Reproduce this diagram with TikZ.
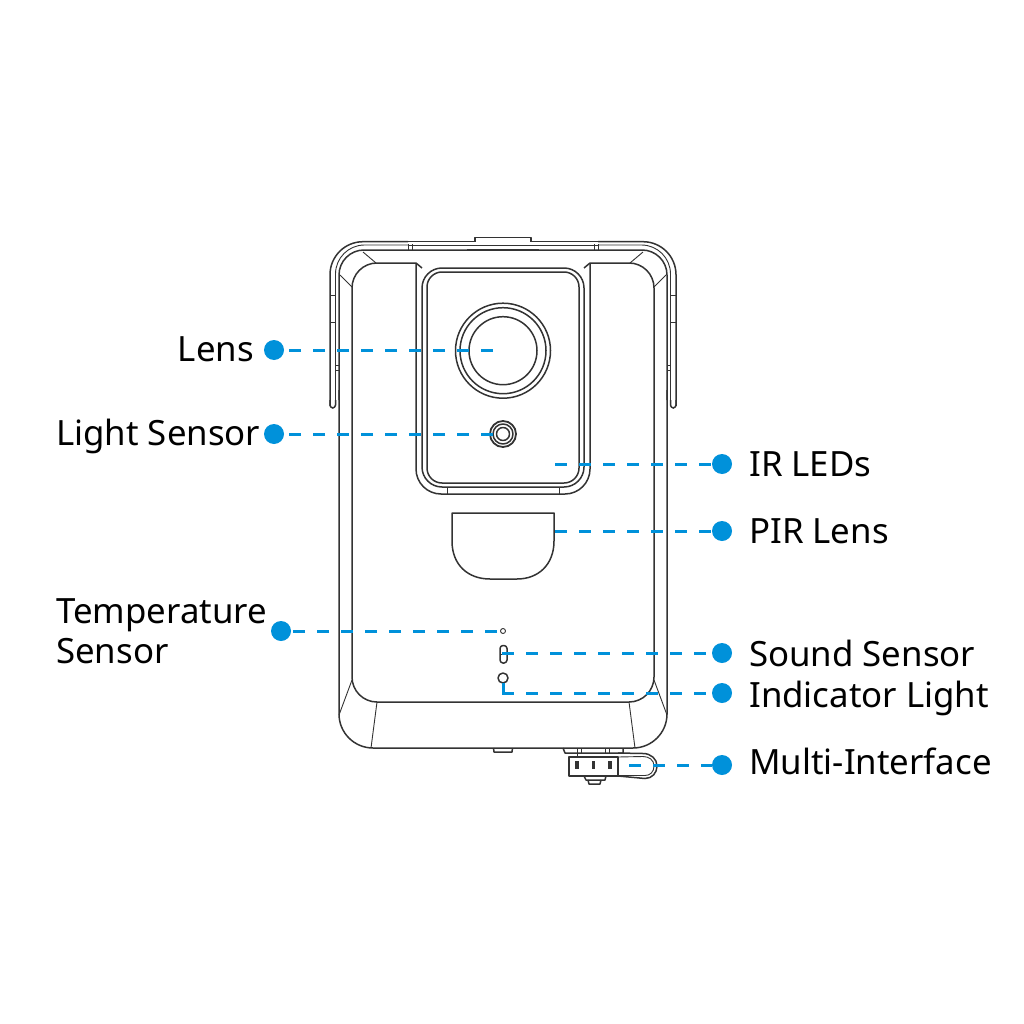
\documentclass[tikz,border=0pt]{standalone}
\usepackage{fontspec}
\setmainfont{Noto Sans}
\usetikzlibrary{calc}

\definecolor{leadblue}{HTML}{0091DA}
\definecolor{inkline}{HTML}{333333}

\tikzset{
  outline/.style={draw=inkline,line width=1.5pt,line join=round},
  thinline/.style={draw=inkline,line width=0.9pt},
  leader/.style={draw=leadblue,line width=3pt,dash pattern=on 12pt off 12pt},
  leaddot/.style={circle,fill=leadblue,inner sep=0pt,minimum size=20pt},
  callout/.style={inner sep=0pt,align=left,font=\fontsize{34.8}{40}\selectfont,text=black},
}

\newcommand{\hoodside}{
  \draw[outline,rounded corners=33pt] (330,406) -- (330,241.7) -- (408,241.7);
  \draw[thinline,rounded corners=29pt] (335.5,406) -- (335.5,245) -- (408,245);
  \draw[outline,rounded corners=3pt] (330,400) -- (330,408) -- (335.5,408) -- (335.5,400);
  \draw[thinline] (330,295) -- (335.5,295);
  \draw[thinline] (330,322) -- (335.5,322);
  \draw[thinline] (335.5,365) -- (339,365);
  \draw[thinline] (335.5,370) -- (339,370);
  \draw[thinline] (363,252) -- (376,263);
  \draw[thinline] (340,275) -- (352,287);
  \draw[thinline] (408,244) -- (408,250);
  \draw[thinline] (412,244) -- (412,250);
  \draw[thinline] (352,680) -- (339,715);
  \draw[thinline] (377,702) -- (371,748);
}

\begin{document}
\begin{tikzpicture}[x=1pt,y=-1pt]
  \useasboundingbox (0,0) rectangle (1024,1024);

  % hood and body
  \draw[outline,rounded corners=25pt] (339,400) -- (339,250) -- (667,250) -- (667,400);
  \draw[outline] (408,241.7) -- (598,241.7);
  \draw[thinline] (408,245) -- (598,245);
  \draw[outline,fill=white] (475,241.7) -- (475,237.5) -- (531,237.5) -- (531,241.7);
  \draw[draw=inkline,line width=2pt] (467,249.5) -- (539,249.5);
  \draw[outline,rounded corners=34pt] (339,390) -- (339,748) -- (667,748) -- (667,390);
  \hoodside
  \begin{scope}[xshift=1006pt,xscale=-1]
    \hoodside
  \end{scope}

  % front face
  \draw[outline,rounded corners=25pt] (416,263) -- (352,263) -- (352,702) -- (654,702) -- (654,263) -- (590,263);
  \draw[outline,rounded corners=25pt] (416,263) -- (416,494) -- (590,494) -- (590,263);
  \draw[outline,rounded corners=20pt] (422,268) -- (422,487) -- (584,487) -- (584,268) -- cycle;
  \draw[outline,rounded corners=15pt] (427,272) rectangle (579,483);
  \draw[outline] (416,263) -- (422,268);
  \draw[outline] (590,263) -- (584,268);
  \draw[thinline] (447,487) -- (447,494);
  \draw[thinline] (559,487) -- (559,494);

  % lens
  \draw[outline] (503,350.7) circle (47.5);
  \draw[outline] (503,350.7) circle (43);
  \draw[outline] (503,350.7) circle (34);

  % light sensor
  \draw[outline,line width=1.8pt] (503,434) circle (13);
  \draw[outline] (503,434) circle (10);
  \draw[outline] (503,434) circle (6.5);

  % pir lens
  \draw[outline] (452,513) -- (554,513) -- (554,541) .. controls (554,565) and (538,579) .. (517,579) -- (490,579) .. controls (468,579) and (452,565) .. (452,541) -- cycle;

  % small openings
  \draw[thinline] (503,631) circle (2.5);
  \draw[outline,rounded corners=3pt] (500,645.5) rectangle (507,663);
  \draw[thinline] (500,654) -- (507,654);
  \draw[outline] (503,678) circle (5);

  % underside
  \draw[outline] (493.5,748) -- (494,752) -- (512,752) -- (512.5,748);
  \draw[outline] (563,748) -- (565,753) -- (623,753) -- (623,748);
  \draw[thinline] (577,748) -- (577,753);
  \draw[thinline] (581,748) -- (581,753);
  \draw[thinline] (605,748) -- (605,753);
  \draw[thinline] (609,748) -- (609,753);
  \draw[thinline] (577,753) -- (577,756);
  \draw[outline] (569,757) -- (569,776) -- (618,776) -- (618,757) -- cycle;
  \draw[outline] (584,776) -- (586,780) -- (605,780) -- (606,776);
  \draw[outline] (588,780) -- (589,784) -- (600,784) -- (601,780);
  \draw[outline] (618,753) -- (643,753.5) .. controls (651,753.5) and (657,759) .. (657,766) .. controls (657,773) and (652,778.5) .. (645,778.5) -- (618,776);
  \draw[thinline] (618,757) -- (643,756.5) .. controls (649,756.5) and (654,760) .. (654,766) .. controls (654,772) and (650,775.5) .. (645,775.5) -- (618,775.5);
  \fill[inkline] (575,760.5) rectangle (578.5,769);
  \fill[inkline] (591.5,760.5) rectangle (595,769);
  \fill[inkline] (608,760.5) rectangle (611.5,769);

  % callouts
  \node[callout,anchor=base east] (lens) at (254,361) {Lens};
  \node[callout,anchor=base west] (light) at (56,445) {Light Sensor};
  \node[callout,anchor=west] (temp) at (56,631) {Temperature\\Sensor};
  \node[callout,anchor=base west] (irled) at (749,476) {IR LEDs};
  \node[callout,anchor=base west] (pir) at (749,543) {PIR Lens};
  \node[callout,anchor=base west] (sound) at (749,666) {Sound Sensor};
  \node[callout,anchor=base west] (indicator) at (749,707) {Indicator Light};
  \node[callout,anchor=base west] (multi) at (749,774) {Multi-Interface};

  \node[leaddot] (lensdot) at (274,350) {};
  \node[leaddot] (lightdot) at (274,434) {};
  \node[leaddot] (tempdot) at (281,631) {};
  \node[leaddot] (irdot) at (722,464) {};
  \node[leaddot] (pirdot) at (722,531) {};
  \node[leaddot] (sounddot) at (722,653) {};
  \node[leaddot] (indicatordot) at (722,693) {};
  \node[leaddot] (multidot) at (722,765) {};

  \coordinate (lensend) at (493,350);
  \coordinate (lightend) at (493,434);
  \coordinate (tempend) at (497,631);
  \coordinate (irend) at (555,464);
  \coordinate (pirend) at (555,531);
  \coordinate (soundend) at (502,653);
  \coordinate (indicatorend) at (503,683);
  \coordinate (indicatorbend) at (503,693);
  \coordinate (multiend) at (629,765);

  \draw[leader] (lensend) -- (lensdot);
  \draw[leader] (lightend) -- (lightdot);
  \draw[leader] (tempend) -- (tempdot);
  \draw[leader] (irend) -- (irdot);
  \draw[leader] (pirend) -- (pirdot);
  \draw[leader] (soundend) -- (sounddot);
  \draw[leader,dash pattern=on 21pt off 12pt on 12pt off 12pt on 12pt off 12pt on 12pt off 12pt on 12pt off 12pt on 12pt off 12pt on 12pt off 12pt on 12pt off 12pt on 12pt off 12pt] (indicatorend) -- (indicatorbend) -- (indicatordot);
  \draw[leader] (multiend) -- (multidot);
\end{tikzpicture}
\end{document}
